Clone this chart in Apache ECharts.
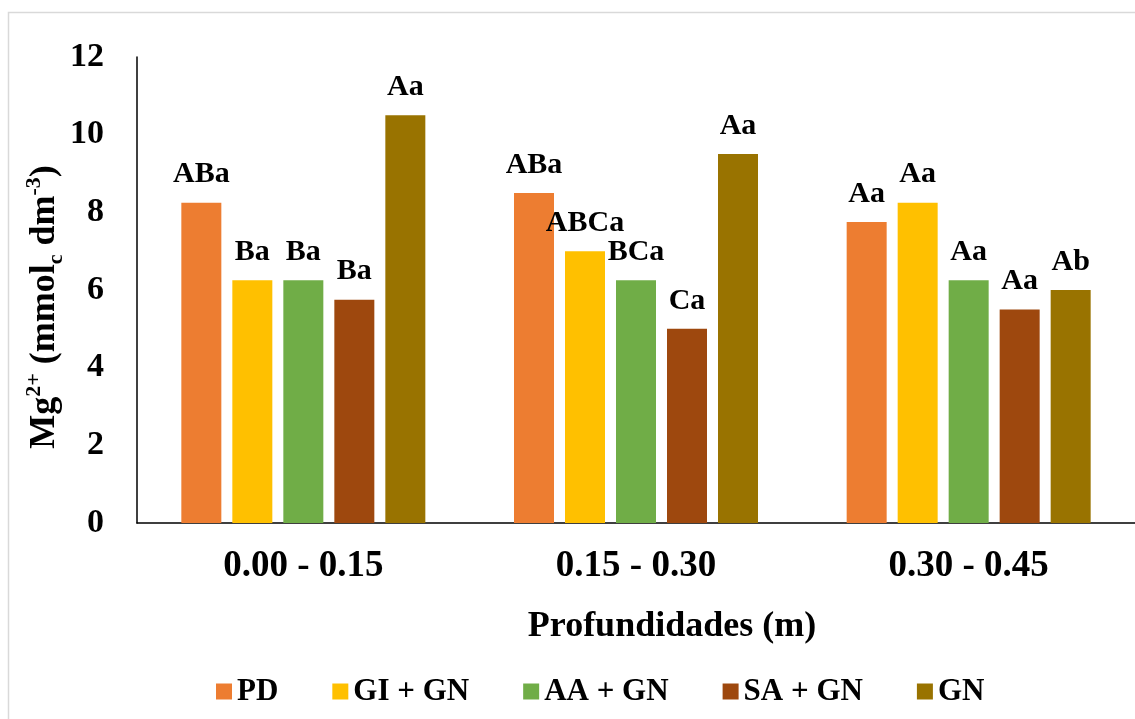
<!DOCTYPE html>
<html>
<head>
<meta charset="utf-8">
<script src="https://cdn.jsdelivr.net/npm/echarts@6/dist/echarts.min.js"></script>
<style>
  html, body { margin: 0; padding: 0; background: #ffffff; }
  #chart { width: 1135px; height: 719px; }
</style>
</head>
<body>
<div id="chart"></div>
<script>
// Depth classes (m)
const depths = ['0.00 - 0.15', '0.15 - 0.30', '0.30 - 0.45'];

// Treatments
const treatments = ['PD', 'GI + GN', 'AA + GN', 'SA + GN', 'GN'];
const colors = ['#ED7D31', '#FFC000', '#70AD47', '#9E480E', '#997300'];

// Mg2+ (mmolc dm-3) per depth, one array per treatment
const valPD   = [8.25, 8.5, 7.75];
const valGI   = [6.25, 7.0, 8.25];
const valAA   = [6.25, 6.25, 6.25];
const valSA   = [5.75, 5.0, 5.5];
const valGN   = [10.5, 9.5, 6.0];

// Mean comparison letters
const lblPD = ['ABa', 'ABa', 'Aa'];
const lblGI = ['Ba', 'ABCa', 'Aa'];
const lblAA = ['Ba', 'BCa', 'Aa'];
const lblSA = ['Ba', 'Ca', 'Aa'];
const lblGN = ['Aa', 'Aa', 'Ab'];

// Y axis ticks
const yMin = 0, yMax = 12, yStep = 2;

const values = [valPD, valGI, valAA, valSA, valGN];
const letters = [lblPD, lblGI, lblAA, lblSA, lblGN];

const FONT = '"Liberation Serif", "Times New Roman", serif';

const series = treatments.map((name, i) => ({
  name: name,
  type: 'bar',
  barWidth: 40,
  barGap: '27.5%',
  itemStyle: { color: colors[i] },
  label: {
    show: true,
    position: 'top',
    distance: 13,
    fontFamily: FONT,
    fontWeight: 'bold',
    fontSize: 30,
    color: '#000',
    formatter: p => letters[i][p.dataIndex]
  },
  data: values[i]
}));

const chart = echarts.init(document.getElementById('chart'), null, { renderer: 'canvas' });
chart.setOption({
  animation: false,
  textStyle: { fontFamily: FONT },
  graphic: [{
    type: 'rect',
    silent: true,
    shape: { x: 8.5, y: 12.5, width: 1300, height: 900 },
    style: { fill: 'none', stroke: '#d9d9d9', lineWidth: 1.5 }
  }],
  grid: { left: 137, right: 0, top: 57, bottom: 196, containLabel: false },
  legend: {
    data: treatments,
    left: 211,
    top: 671,
    icon: 'rect',
    itemWidth: 16,
    itemHeight: 16,
    itemGap: 54,
    textStyle: { fontFamily: FONT, fontWeight: 'bold', fontSize: 31, color: '#000' }
  },
  xAxis: {
    type: 'category',
    data: depths,
    axisLine: { lineStyle: { color: '#000', width: 1.5 } },
    axisTick: { show: false },
    axisLabel: { margin: 25, fontFamily: FONT, fontWeight: 'bold', fontSize: 37, color: '#000' },
    name: 'Profundidades (m)',
    nameLocation: 'middle',
    nameGap: 86,
    nameMoveOverlap: false,
    nameTextStyle: { fontFamily: FONT, fontWeight: 'bold', fontSize: 36, color: '#000', padding: [0, 0, 0, 72] }
  },
  yAxis: {
    type: 'value',
    min: yMin,
    max: yMax,
    interval: yStep,
    splitLine: { show: false },
    axisLine: { show: true, lineStyle: { color: '#000', width: 1.5 } },
    axisTick: { show: false },
    axisLabel: { margin: 33, fontFamily: FONT, fontWeight: 'bold', fontSize: 34, color: '#000' },
    name: '{m|Mg}{sup|2+}{m| (mmol}{sub|c}{m| dm}{sup|-3}{m|)}',
    nameLocation: 'middle',
    nameRotate: 90,
    nameGap: 70,
    nameMoveOverlap: false,
    nameTextStyle: {
      padding: [0, 34, 0, 0],
      rich: {
        m:   { fontFamily: FONT, fontWeight: 'bold', fontSize: 36, lineHeight: 44, verticalAlign: 'middle', color: '#000' },
        sup: { fontFamily: FONT, fontWeight: 'bold', fontSize: 22, lineHeight: 22, verticalAlign: 'top', color: '#000' },
        sub: { fontFamily: FONT, fontWeight: 'bold', fontSize: 22, lineHeight: 22, verticalAlign: 'bottom', color: '#000' }
      }
    }
  },
  series: series
});
</script>
</body>
</html>
